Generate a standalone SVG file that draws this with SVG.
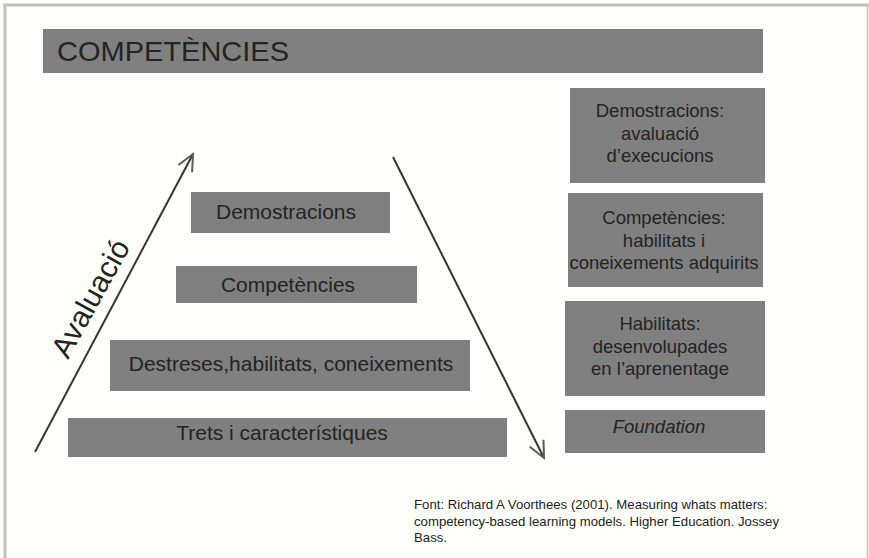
<svg xmlns="http://www.w3.org/2000/svg" width="869" height="558" viewBox="0 0 869 558">
<style>
.box{fill:#808081}
.t{font-family:"Liberation Sans",Arial,sans-serif;fill:#232323}
.lt{font-size:21px;text-anchor:middle}
.rt{font-size:18.5px;text-anchor:middle}
.arr{stroke:#353535;stroke-width:2;fill:none}
</style>
<defs>
<marker id="ah" markerUnits="userSpaceOnUse" viewBox="-20 -10 22 20" markerWidth="22" markerHeight="20" refX="0" refY="0" orient="auto">
<path d="M-16.5,-7.7 L0,0 L-16.5,7.7" fill="none" stroke="#5a5a5a" stroke-width="2"/>
</marker>
</defs>
<rect width="869" height="558" fill="#fefefb"/>
<g id="frame" fill="none" stroke="#c0c0c0">
<line x1="3" y1="5" x2="869" y2="5" stroke-width="3"/>
<line x1="5" y1="4" x2="5" y2="558" stroke-width="3"/>
<line x1="867.5" y1="4" x2="867.5" y2="558" stroke-width="1.5"/>
</g>
<g id="title">
<rect class="box" x="43" y="29" width="720" height="44"/>
<text class="t" x="57" y="60.5" font-size="28" textLength="232" lengthAdjust="spacingAndGlyphs">COMPETÈNCIES</text>
</g>
<g id="connectors">
<line class="arr" x1="35" y1="452" x2="193" y2="154" marker-end="url(#ah)"/>
<line class="arr" x1="393" y1="157" x2="544" y2="458" marker-end="url(#ah)"/>
</g>
<g id="avaluacio">
<text class="t" font-size="30" transform="translate(68,360) rotate(-61)">Avaluació</text>
</g>
<g id="demostracions">
<rect class="box" x="191" y="192" width="199" height="41"/>
<text class="t lt" x="286" y="218.5">Demostracions</text>
</g>
<g id="competencies">
<rect class="box" x="176" y="266" width="241" height="37"/>
<text class="t lt" x="288" y="292">Competències</text>
</g>
<g id="destreses">
<rect class="box" x="110" y="340" width="360" height="51"/>
<text class="t lt" x="291" y="371">Destreses,habilitats, coneixements</text>
</g>
<g id="trets">
<rect class="box" x="68" y="418" width="439" height="39"/>
<text class="t lt" x="282" y="440">Trets i característiques</text>
</g>
<g id="r-demostracions">
<rect class="box" x="570" y="88" width="195" height="95"/>
<text class="t rt" x="660" y="117">Demostracions:</text>
<text class="t rt" x="660" y="139.5">avaluació</text>
<text class="t rt" x="660" y="162">d’execucions</text>
</g>
<g id="r-competencies">
<rect class="box" x="568" y="193" width="195" height="94"/>
<text class="t rt" x="664" y="224">Competències:</text>
<text class="t rt" x="664" y="246.5">habilitats i</text>
<text class="t rt" x="664" y="269">coneixements adquirits</text>
</g>
<g id="r-habilitats">
<rect class="box" x="565" y="301" width="200" height="95"/>
<text class="t rt" x="660" y="330">Habilitats:</text>
<text class="t rt" x="660" y="352.5">desenvolupades</text>
<text class="t rt" x="660" y="375">en l’aprenentage</text>
</g>
<g id="r-foundation">
<rect class="box" x="565" y="410" width="200" height="43"/>
<text class="t rt" x="659" y="433" font-style="italic">Foundation</text>
</g>
<g id="source" class="t" font-size="13.2" fill="#333">
<text x="414" y="509">Font: Richard A Voorthees (2001). Measuring whats matters:</text>
<text x="414" y="525.5">competency-based learning models. Higher Education. Jossey</text>
<text x="414" y="542">Bass.</text>
</g>
</svg>
